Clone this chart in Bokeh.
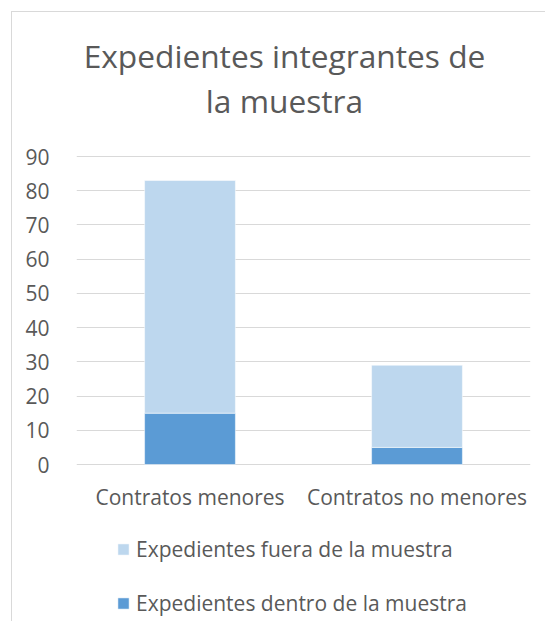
from bokeh.plotting import figure
from bokeh.models import Range1d, Legend, LegendItem, ColumnDataSource, FixedTicker, Label
from bokeh.core.properties import value
from bokeh.embed import file_html
from bokeh.resources import INLINE

categories = ["Contratos menores", "Contratos no menores"]
dentro = [15, 5]
fuera = [68, 24]
series_names = ["Expedientes dentro de la muestra", "Expedientes fuera de la muestra"]
colors = ["#5B9BD5", "#BDD7EE"]
y_ticks = [0, 10, 20, 30, 40, 50, 60, 70, 80, 90]
title_lines = ["Expedientes integrantes de", "la muestra"]

FONT = "Open Sans"
TXT = "#595959"
SMALL = "21px"

source = ColumnDataSource(dict(cat=categories, dentro=dentro, fuera=fuera))

W, H = 534, 610
# frame spans the whole canvas height; value axis 0..90 occupies 308 px of it
PX_PER_UNIT = 308 / 90
TOP_PAD = 144
y_top = 90 + TOP_PAD / PX_PER_UNIT
y_bottom = -(H - TOP_PAD - 308) / PX_PER_UNIT

p = figure(x_range=categories, y_range=Range1d(y_bottom, y_top), width=W, height=H,
           output_backend="svg", toolbar_location=None,
           min_border_left=64, min_border_right=16, min_border_top=0, min_border_bottom=0)
p.margin = (11, 0, 0, 11)
p.styles = {"border-left": "1px solid #d9d9d9", "border-top": "1px solid #d9d9d9"}

rs = p.vbar_stack(["dentro", "fuera"], x="cat", width=0.4, source=source,
                  color=colors, line_color="white", line_width=0.5)

# category labels under the bars
p.text(x="cat", y=0, text="cat", source=source, y_offset=32,
       text_align="center", text_baseline="middle", text_font=value(FONT),
       text_font_size=SMALL, text_color=TXT)

# title lines (screen units relative to frame bottom-left)
for txt, yb in zip(title_lines, [567, 522]):
    p.add_layout(Label(x=208, y=yb, x_units="screen", y_units="screen", text=txt,
                       text_align="center", text_baseline="middle",
                       text_font=FONT, text_font_size="31.7px", text_color=TXT))

p.outline_line_color = None
p.xgrid.grid_line_color = None
p.ygrid.grid_line_color = "#d9d9d9"
p.ygrid.grid_line_width = 1
p.yaxis.ticker = FixedTicker(ticks=y_ticks)
p.xaxis.visible = False

yax = p.yaxis[0]
yax.axis_line_color = None
yax.major_tick_line_color = None
yax.minor_tick_line_color = None
yax.major_label_text_font = FONT
yax.major_label_text_font_size = SMALL
yax.major_label_text_color = TXT
yax.major_label_standoff = 21

legend = Legend(items=[LegendItem(label=series_names[1], renderers=[rs[1]]),
                       LegendItem(label=series_names[0], renderers=[rs[0]])],
                location=(40, 5), orientation="vertical",
                glyph_width=14, glyph_height=14, label_height=29,
                label_text_font=FONT, label_text_font_size=SMALL, label_text_color=TXT,
                spacing=25, padding=0, margin=0, label_standoff=6,
                border_line_color=None, background_fill_alpha=0)
p.add_layout(legend)

open("out.html", "w").write(file_html(p, INLINE))
